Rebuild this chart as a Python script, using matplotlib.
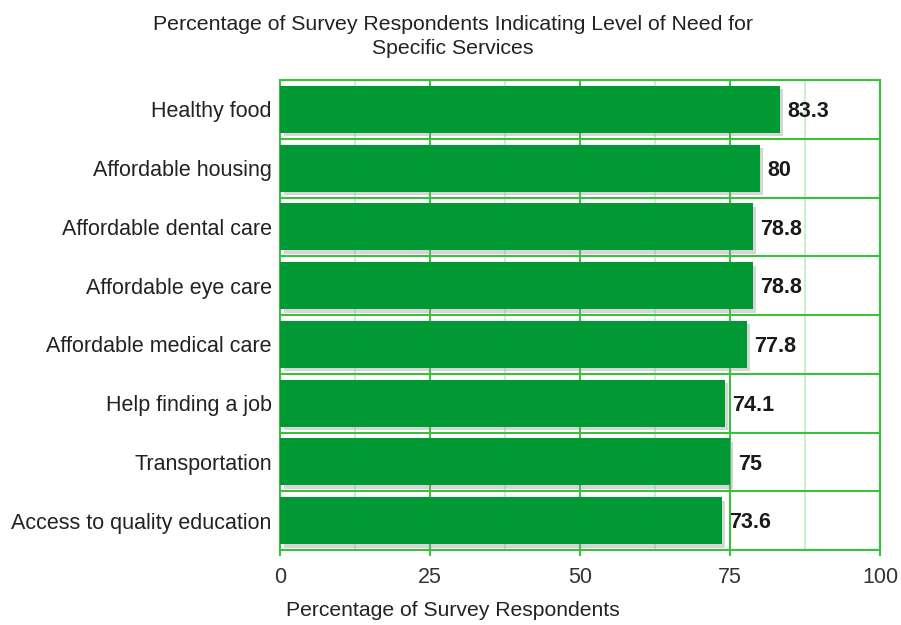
import matplotlib
matplotlib.use('Agg')
import matplotlib.pyplot as plt
import matplotlib.patheffects as pe
import numpy as np

plt.rcParams['font.family'] = ['Liberation Sans', 'DejaVu Sans']

# data, top to bottom as shown in the chart
services = ['Healthy food', 'Affordable housing', 'Affordable dental care',
            'Affordable eye care', 'Affordable medical care', 'Help finding a job',
            'Transportation', 'Access to quality education']
percent = [83.3, 80, 78.8, 78.8, 77.8, 74.1, 75, 73.6]
value_labels = ['83.3', '80', '78.8', '78.8', '77.8', '74.1', '75', '73.6']
x_ticks = [0, 25, 50, 75, 100]

bar_color = '#009933'
major_grid = '#3cbf3c'
minor_grid = '#c3ebc3'

fig = plt.figure(figsize=(9.01, 6.25), dpi=100)
ax = fig.add_axes([0.3108, 0.12, 0.6659, 0.752])

y = np.arange(len(services))
bars = ax.barh(y, percent, height=0.8, color=bar_color, zorder=3,
               path_effects=[pe.SimplePatchShadow(offset=(2.5, -2.5), shadow_rgbFace='#999999', alpha=0.4),
                             pe.Normal()])

for yi, val, lab in zip(y, percent, value_labels):
    ax.text(val + 1.3, yi + 0.04, lab, va='center', ha='left', fontsize=15.5,
            fontweight='bold', color='#1a1a1a', zorder=4)

ax.set_xlim(0, 100)
ax.set_ylim(len(services) - 0.5, -0.5)
ax.set_xticks(x_ticks)
ax.set_xticklabels([str(t) for t in x_ticks], fontsize=15.5, color='#333333')
ax.set_xticks([12.5, 37.5, 62.5, 87.5], minor=True)
ax.set_yticks(y)
ax.set_yticklabels(services, fontsize=15.5, color='#222222')
ax.set_yticks(np.arange(len(services) + 1) - 0.5, minor=True)

ax.tick_params(axis='x', which='major', length=4, color=major_grid, width=1.5, pad=8)
ax.tick_params(axis='x', which='minor', length=0)
ax.tick_params(axis='y', which='both', length=0, pad=6)

ax.grid(axis='x', which='major', color=major_grid, linewidth=1.5, zorder=1)
ax.grid(axis='x', which='minor', color=minor_grid, linewidth=1.2, zorder=1)
ax.grid(axis='y', which='minor', color=major_grid, linewidth=1.5, zorder=1)
ax.grid(axis='y', which='major', visible=False)

for s in ax.spines.values():
    s.set_color(major_grid)
    s.set_linewidth(1.5)

fig.text(0.503, 0.008, 'Percentage of Survey Respondents', ha='center', va='bottom',
         fontsize=15.2, color='#222222')
fig.text(0.503, 0.976, 'Percentage of Survey Respondents Indicating Level of Need for\nSpecific Services',
         ha='center', va='top', fontsize=15.3, color='#222222', linespacing=1.35)

fig.savefig('out.png', dpi=100)
